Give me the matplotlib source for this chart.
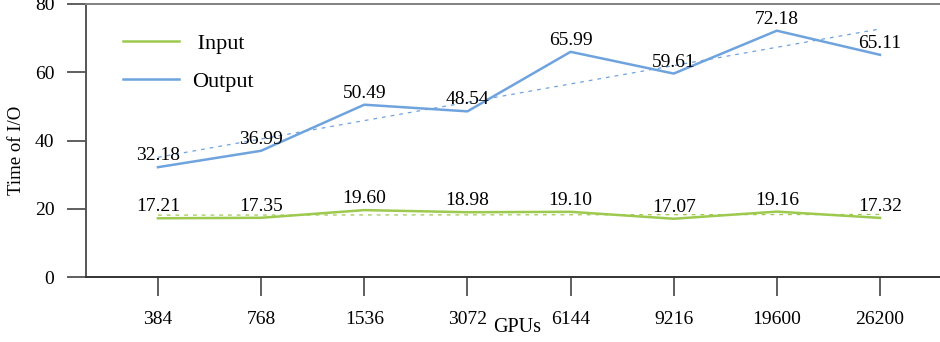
import numpy as np
import matplotlib
matplotlib.use("Agg")
import matplotlib.pyplot as plt

plt.rcParams['font.family'] = ['Liberation Serif', 'DejaVu Serif']

gpus = ['384', '768', '1536', '3072', '6144', '9216', '19600', '26200']
input_time = [17.21, 17.35, 19.60, 18.98, 19.10, 17.07, 19.16, 17.32]
output_time = [32.18, 36.99, 50.49, 48.54, 65.99, 59.61, 72.18, 65.11]
yticks = [0, 20, 40, 60, 80]

green = '#9dc94f'
blue = '#6fa3de'

fig = plt.figure(figsize=(9.4, 3.42), dpi=100)
ax = fig.add_axes([86 / 940, 65 / 342, 854 / 940, 273 / 342])

x = np.arange(len(gpus))
ax.plot(x, input_time, color=green, linewidth=1.8, label=' Input')
ax.plot(x, output_time, color=blue, linewidth=1.8, label='Output')

# linear trend lines
for vals, col in [(input_time, green), (output_time, blue)]:
    k, b = np.polyfit(x, vals, 1)
    ax.plot(x, k * x + b, color=col, linewidth=0.9, linestyle=(0, (3, 4)))

for vals in (input_time, output_time):
    for xi, v in zip(x, vals):
        ax.annotate(f'{v:.2f}', (xi, v), xytext=(0, 5), textcoords='offset points',
                    ha='center', va='baseline', fontsize=14)

ax.set_xlim(-0.698, 7.582)
ax.set_ylim(0, 80)
ax.set_xticks(x)
ax.set_xticklabels(gpus)
ax.set_yticks(yticks)
ax.tick_params(axis='both', direction='out', length=13.7, width=1.2, labelsize=14,
               color='#444444')
ax.tick_params(axis='x', pad=11)
ax.tick_params(axis='y', pad=9)

ax.spines['right'].set_visible(False)
ax.spines['left'].set_color('#555555')
ax.spines['bottom'].set_color('#333333')
ax.spines['top'].set_color('#808080')
for s in ('left', 'bottom', 'top'):
    ax.spines[s].set_linewidth(1.4)

ax.set_ylabel('Time of I/O', fontsize=13.5)
ax.yaxis.set_label_coords(-0.072, 0.465)
ax.set_xlabel('GPUs', fontsize=14.5)
ax.xaxis.set_label_coords(0.505, -0.15)

ax.legend(loc='upper left', bbox_to_anchor=(0.02, 0.965), frameon=False, fontsize=16,
          handlelength=2.5, handletextpad=0.6, labelspacing=0.78)

fig.savefig('out.png', dpi=100)
